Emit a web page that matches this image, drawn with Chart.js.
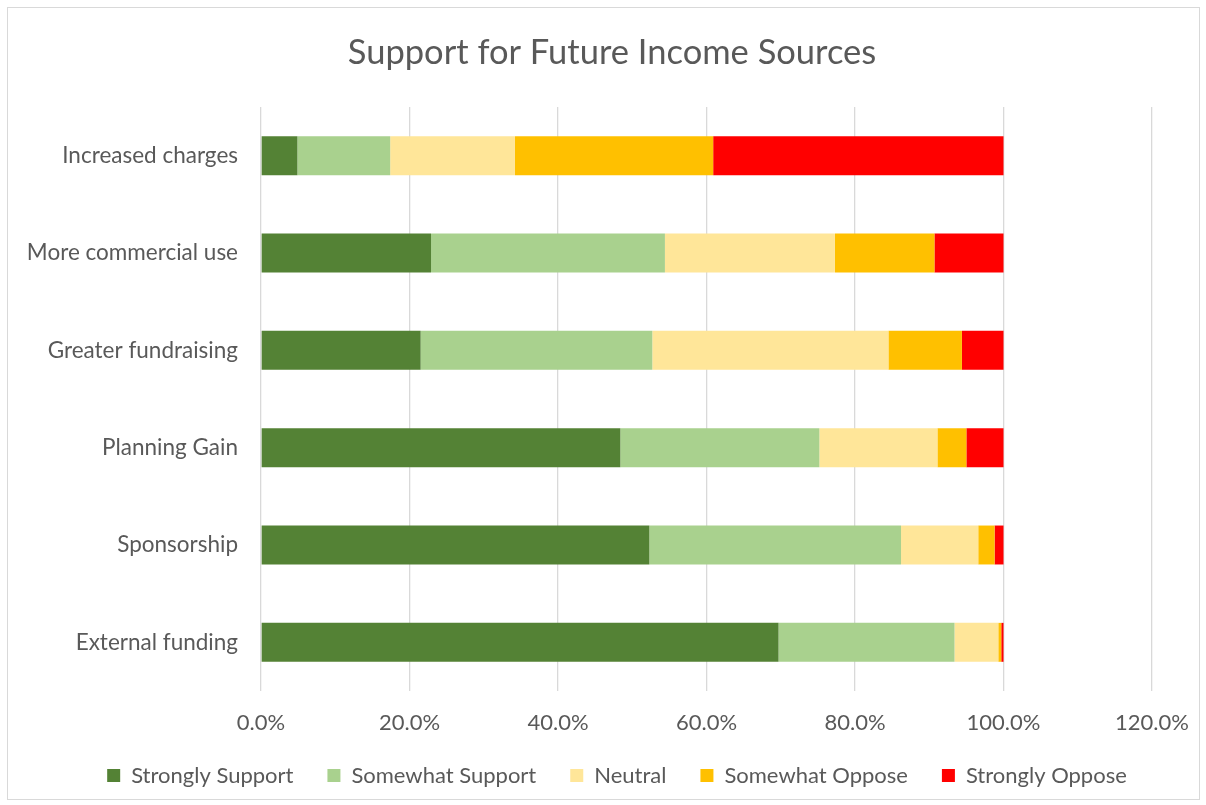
<!DOCTYPE html>
<html>
<head>
<meta charset="utf-8">
<title>Support for Future Income Sources</title>
<script src="https://cdn.jsdelivr.net/npm/chart.js@4/dist/chart.umd.min.js"></script>
<style>
  html, body { margin: 0; padding: 0; background: #fff; }
  #wrap { position: relative; width: 1206px; height: 805px; }
  #frame { position: absolute; left: 7px; top: 7px; width: 1191px; height: 791px; border: 1px solid #d9d9d9; pointer-events: none; }
</style>
</head>
<body>
<div id="wrap">
  <canvas id="js-chart-income" width="1206" height="805"></canvas>
  <div id="frame"></div>
</div>
<script>
// Chart data (percent of respondents)
const categories = ['Increased charges', 'More commercial use', 'Greater fundraising', 'Planning Gain', 'Sponsorship', 'External funding'];
const strongSupport = [4.9, 22.9, 21.5, 48.4, 52.3, 69.7];
const somewhatSupport = [12.5, 31.5, 31.2, 26.8, 33.9, 23.7];
const neutral = [16.8, 22.9, 31.8, 15.9, 10.4, 5.9];
const somewhatOppose = [26.7, 13.4, 9.9, 3.9, 2.2, 0.4];
const strongOppose = [39.1, 9.3, 5.6, 5.0, 1.2, 0.3];
const xTicks = [0, 20, 40, 60, 80, 100, 120];

// Global look
Chart.defaults.font.family = 'Lato, "Open Sans", sans-serif';
Chart.defaults.color = '#595959';
Chart.defaults.animation = false;

// Move a layout box sideways so its centre lands on x
function centerBoxAt(box, x) {
  let dx = x - (box.left + box.right) / 2;
  box.left += dx;
  box.right += dx;
}

// Title and legend are centred like the Excel original, not over the padded canvas
const centerBlocks = {
  id: 'centerBlocks',
  afterLayout(chart) {
    centerBoxAt(chart.titleBlock, 612);
    centerBoxAt(chart.legend, 617);
  }
};

let chartCon = document.getElementById('js-chart-income');

let chartData = {
  labels: categories,
  datasets: [
    { label: 'Strongly Support', data: strongSupport, backgroundColor: '#548235' },
    { label: 'Somewhat Support', data: somewhatSupport, backgroundColor: '#a9d18e' },
    { label: 'Neutral', data: neutral, backgroundColor: '#ffe699' },
    { label: 'Somewhat Oppose', data: somewhatOppose, backgroundColor: '#ffc000' },
    { label: 'Strongly Oppose', data: strongOppose, backgroundColor: '#ff0000' }
  ]
};

let chartOptions = {
  indexAxis: 'y',
  responsive: false,
  maintainAspectRatio: false,
  layout: {
    padding: { top: 0, left: 0, right: 54, bottom: 8.5 }
  },
  datasets: {
    bar: { categoryPercentage: 1, barPercentage: 0.4, borderWidth: 0 }
  },
  scales: {
    x: {
      stacked: true,
      min: 0,
      max: 120,
      afterBuildTicks: function (scale) {
        scale.ticks = xTicks.map(v => ({ value: v }));
      },
      afterFit: function (scale) { scale.height = 39.5; },
      grid: { color: '#d9d9d9', lineWidth: 1.3, drawTicks: false },
      border: { display: false },
      ticks: {
        padding: 0,
        font: { size: 22, lineHeight: '64px' },
        callback: function (value) { return value.toFixed(1) + '%'; }
      }
    },
    y: {
      stacked: true,
      grid: { display: false },
      border: { display: false },
      afterFit: function (scale) { scale.width = 261; },
      ticks: { padding: 15, font: { size: 22.5 } }
    }
  },
  plugins: {
    title: {
      display: true,
      text: 'Support for Future Income Sources',
      color: '#595959',
      font: { size: 34.5, weight: 'normal', lineHeight: 1.2 },
      padding: { top: 32.3, bottom: 33.3 }
    },
    legend: {
      position: 'bottom',
      labels: { boxWidth: 13, boxHeight: 13, padding: 34, font: { size: 22 }, color: '#595959' }
    },
    tooltip: { enabled: false }
  }
};

new Chart(chartCon, { type: 'bar', data: chartData, options: chartOptions, plugins: [centerBlocks] });
</script>
</body>
</html>
